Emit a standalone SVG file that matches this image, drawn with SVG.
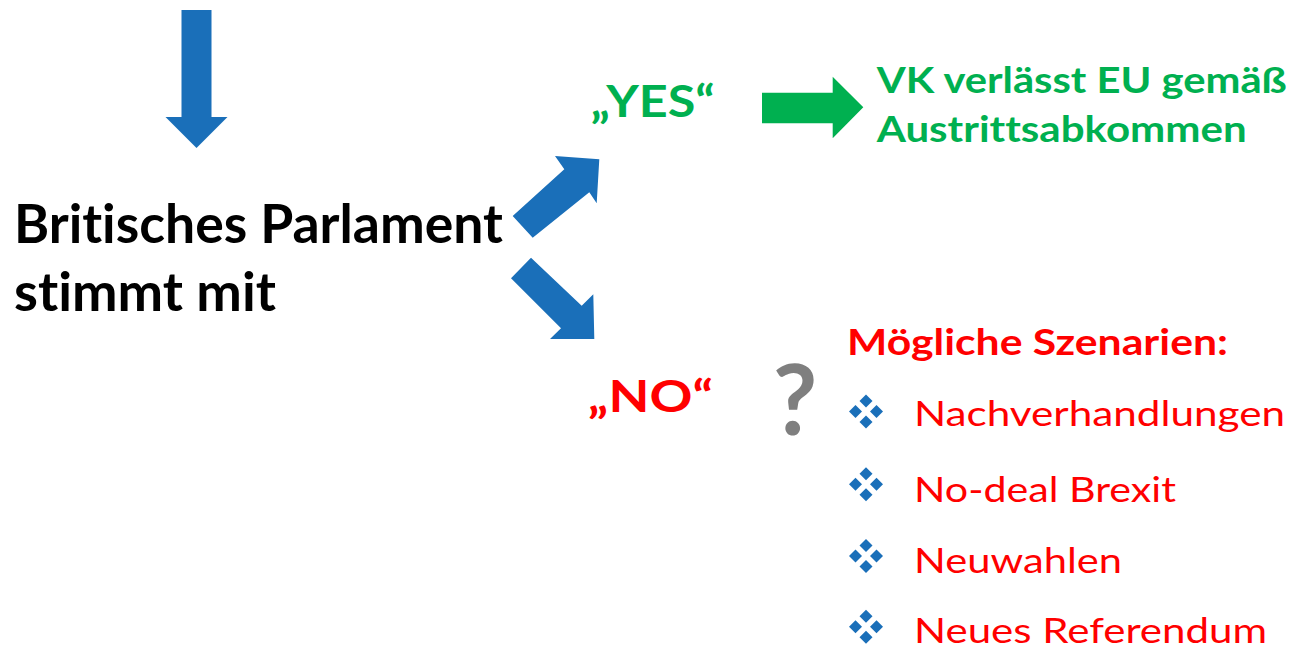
<svg xmlns="http://www.w3.org/2000/svg" width="1292" height="649" viewBox="0 0 1292 649">
<defs>
<style>
.t{font-family:Lato,"Open Sans","Liberation Sans",sans-serif;font-variant-ligatures:none;font-feature-settings:"liga" 0;}
.b{font-weight:bold;}
.blk{fill:#000000;}
.grn{fill:#00B050;}
.red{fill:#FF0000;}
.blue{fill:#1A6FB9;}
</style>
<g id="bullet">
<polygon points="0,-17 6.5,-10.5 0,-4 -6.5,-10.5"/>
<polygon points="-10.5,-6.5 -4,0 -10.5,6.5 -17,0"/>
<polygon points="10.5,-6.5 17,0 10.5,6.5 4,0"/>
<polygon points="0,4 6.5,10.5 0,17 -6.5,10.5"/>
</g>
</defs>
<rect width="1292" height="649" fill="#ffffff"/>
<g id="connectors">
<polygon class="blue" points="181.5,10 211.5,10 211.5,117 227.5,117 196.5,148 165.5,117 181.5,117"/>
<polygon class="blue" points="512.7,216 564.3,169.3 555,156 599.3,159.3 596.7,203.3 589.3,192.3 532.7,237.7"/>
<polygon class="blue" points="511,278.3 531,257.7 581.7,305.7 593.3,294.3 594.3,339 550,339 561,328.3"/>
<polygon class="grn" points="762,92.7 832.7,92.7 832.7,76.7 863.3,107.3 832.7,138.3 832.7,123.3 762,123.3"/>
</g>
<g id="node-parlament">
<text class="t b blk" x="14" y="243" font-size="54" textLength="489" lengthAdjust="spacingAndGlyphs">Britisches Parlament</text>
<text class="t b blk" x="14" y="311" font-size="54" textLength="262" lengthAdjust="spacingAndGlyphs">stimmt mit</text>
</g>
<g id="node-yes">
<text class="t b grn" x="590.7" y="116.7" font-size="44" textLength="124" lengthAdjust="spacingAndGlyphs">„YES“</text>
</g>
<g id="node-no">
<text class="t b red" x="588" y="411.7" font-size="43" textLength="125" lengthAdjust="spacingAndGlyphs">„NO“</text>
</g>
<g id="node-austritt">
<text class="t b grn" x="876.7" y="93.3" font-size="36" textLength="410" lengthAdjust="spacingAndGlyphs">VK verlässt EU gemäß</text>
<text class="t b grn" x="876.7" y="142" font-size="36" textLength="370" lengthAdjust="spacingAndGlyphs">Austrittsabkommen</text>
</g>
<g id="node-question">
<text class="t b" x="795" y="435" font-size="97" fill="#7F7F7F" text-anchor="middle">?</text>
</g>
<g id="node-szenarien">
<text class="t b red" x="847" y="355" font-size="36" textLength="381" lengthAdjust="spacingAndGlyphs">Mögliche Szenarien:</text>
<use href="#bullet" class="blue" x="866" y="411.5"/>
<text class="t red" x="914" y="426" font-size="35" textLength="371" lengthAdjust="spacingAndGlyphs">Nachverhandlungen</text>
<use href="#bullet" class="blue" x="866" y="484.3"/>
<text class="t red" x="914" y="501.7" font-size="35" textLength="262" lengthAdjust="spacingAndGlyphs">No-deal Brexit</text>
<use href="#bullet" class="blue" x="866" y="556"/>
<text class="t red" x="914" y="573.3" font-size="35" textLength="208" lengthAdjust="spacingAndGlyphs">Neuwahlen</text>
<use href="#bullet" class="blue" x="866" y="626.7"/>
<text class="t red" x="914" y="643" font-size="35" textLength="353" lengthAdjust="spacingAndGlyphs">Neues Referendum</text>
</g>
</svg>
